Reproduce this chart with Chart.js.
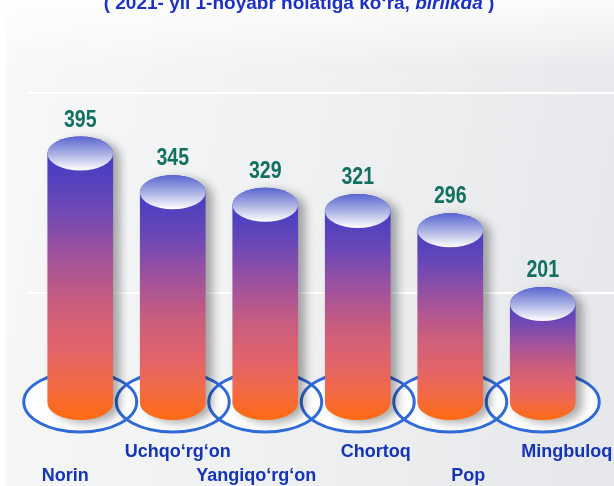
<!DOCTYPE html>
<html>
<head>
<meta charset="utf-8">
<script src="https://cdn.jsdelivr.net/npm/chart.js@4.4.0/dist/chart.umd.min.js"></script>
<style>
  body { margin: 0; }
  #box {
    position: relative;
    width: 614px;
    height: 486px;
    background:
      linear-gradient(90deg, #ffffff 0, #ffffff 5px, rgba(255,255,255,0) 7px),
      linear-gradient(180deg, rgba(255,255,255,0.85) 0, rgba(255,255,255,0) 70px),
      linear-gradient(100deg, #f8f8f9 0%, #f0f1f2 45%, #e6e7ea 100%);
  }
</style>
</head>
<body>
<div id="box"><canvas id="myChart"></canvas></div>
<script>
const districts = ['Norin', 'Uchqo‘rg‘on', 'Yangiqo‘rg‘on', 'Chortoq', 'Pop', 'Mingbuloq'];
const counts = [395, 345, 329, 321, 296, 201];
const titleParts = ['( 2021- yil 1-noyabr holatiga ko‘ra, ', 'birlikda', ' )'];

// district names are staggered in two rows and nudged sideways a little
const nameShift = [-15, 5, -9, 18, 18, 24];
const nameRow = [1, 0, 1, 0, 1, 0];

const blue = '#1434b8';
const axisFloor = 73.5;

const cylinders = {
    id: 'cylinders',
    beforeDatasetsDraw(chart) {
        const ctx = chart.ctx;
        const y = chart.scales.y;
        // pale rules on the slide background
        ctx.save();
        ctx.strokeStyle = 'rgba(255,255,255,0.95)';
        ctx.lineWidth = 2;
        [y.max, 215].forEach(v => {
            const py = Math.round(y.getPixelForValue(v));
            ctx.beginPath();
            ctx.moveTo(chart.chartArea.left - 7, py);
            ctx.lineTo(chart.width, py);
            ctx.stroke();
        });
        ctx.restore();
    },
    afterDatasetsDraw(chart) {
        const ctx = chart.ctx;
        const bars = chart.getDatasetMeta(0).data;
        const ry = 17;
        ctx.save();

        // white plates with a blue rim under every bar
        bars.forEach(b => {
            ctx.beginPath();
            ctx.ellipse(b.x, b.base - 1, b.width * 0.86, 30, 0, 0, Math.PI * 2);
            ctx.fillStyle = '#ffffff';
            ctx.fill();
        });
        bars.forEach(b => {
            ctx.beginPath();
            ctx.ellipse(b.x, b.base - 1, b.width * 0.86, 30, 0, 0, Math.PI * 2);
            ctx.strokeStyle = '#2f6ad8';
            ctx.lineWidth = 3;
            ctx.stroke();
        });

        bars.forEach((b, i) => {
            const rx = b.width / 2;

            // body
            const g = ctx.createLinearGradient(0, b.y - ry, 0, b.base + ry);
            g.addColorStop(0, '#3238c8');
            g.addColorStop(0.25, '#6c48b6');
            g.addColorStop(0.45, '#a85498');
            g.addColorStop(0.6, '#cc5e7c');
            g.addColorStop(0.75, '#e2646a');
            g.addColorStop(0.88, '#f26a44');
            g.addColorStop(1, '#ff6a10');
            ctx.save();
            ctx.shadowColor = 'rgba(0,0,0,0.33)';
            ctx.shadowBlur = 10;
            ctx.shadowOffsetX = 7;
            ctx.shadowOffsetY = 3;
            ctx.beginPath();
            ctx.ellipse(b.x, b.y, rx, ry, 0, Math.PI, 0, false);
            ctx.lineTo(b.x + rx, b.base);
            ctx.ellipse(b.x, b.base, rx, ry, 0, 0, Math.PI, false);
            ctx.closePath();
            ctx.fillStyle = g;
            ctx.fill();
            ctx.restore();

            // top cap
            const cg = ctx.createLinearGradient(0, b.y - ry, 0, b.y + ry);
            cg.addColorStop(0, '#5a66d0');
            cg.addColorStop(0.5, '#a9b0e4');
            cg.addColorStop(1, '#ffffff');
            ctx.beginPath();
            ctx.ellipse(b.x, b.y, rx, ry, 0, 0, Math.PI * 2);
            ctx.fillStyle = cg;
            ctx.fill();

            // value above the cap, squeezed to a narrow face
            ctx.save();
            ctx.translate(b.x, b.y - ry - 10);
            ctx.scale(0.85, 1);
            ctx.fillStyle = '#117060';
            ctx.font = 'bold 23px "Liberation Sans", Arial, sans-serif';
            ctx.textAlign = 'center';
            ctx.textBaseline = 'alphabetic';
            ctx.fillText(counts[i], 0, 0);
            ctx.restore();

            // district name
            ctx.fillStyle = blue;
            ctx.font = 'bold 18px "Liberation Sans", Arial, sans-serif';
            ctx.textAlign = 'center';
            ctx.textBaseline = 'middle';
            ctx.fillText(districts[i], b.x + nameShift[i], b.base + (nameRow[i] ? 73 : 49));
        });
        ctx.restore();
    },
    afterDraw(chart) {
        // heading, mostly above the visible area
        const ctx = chart.ctx;
        const fonts = ['bold 19px "Liberation Sans", Arial, sans-serif',
                       'italic bold 19px "Liberation Sans", Arial, sans-serif',
                       'bold 19px "Liberation Sans", Arial, sans-serif'];
        ctx.save();
        let total = 0;
        const widths = titleParts.map((t, i) => {
            ctx.font = fonts[i];
            const w = ctx.measureText(t).width;
            total += w;
            return w;
        });
        let x = 299 - total / 2;
        ctx.fillStyle = '#1c30c4';
        ctx.textAlign = 'left';
        ctx.textBaseline = 'alphabetic';
        titleParts.forEach((t, i) => {
            ctx.font = fonts[i];
            ctx.fillText(t, x, 9);
            x += widths[i];
        });
        ctx.restore();
    }
};

const ctx = document.getElementById('myChart').getContext('2d');
const myChart = new Chart(ctx, {
    type: 'bar',
    data: {
        labels: districts,
        datasets: [{
            data: counts,
            base: axisFloor,
            backgroundColor: 'rgba(0,0,0,0)',
            categoryPercentage: 1,
            barPercentage: 0.71
        }]
    },
    options: {
        responsive: true,
        maintainAspectRatio: false,
        animation: false,
        layout: {
            padding: { left: 34, right: 25, top: 93, bottom: 83 }
        },
        plugins: {
            legend: { display: false },
            tooltip: { enabled: false }
        },
        scales: {
            x: { display: false },
            y: { display: false, min: axisFloor, max: 473 }
        }
    },
    plugins: [cylinders]
});
</script>
</body>
</html>
